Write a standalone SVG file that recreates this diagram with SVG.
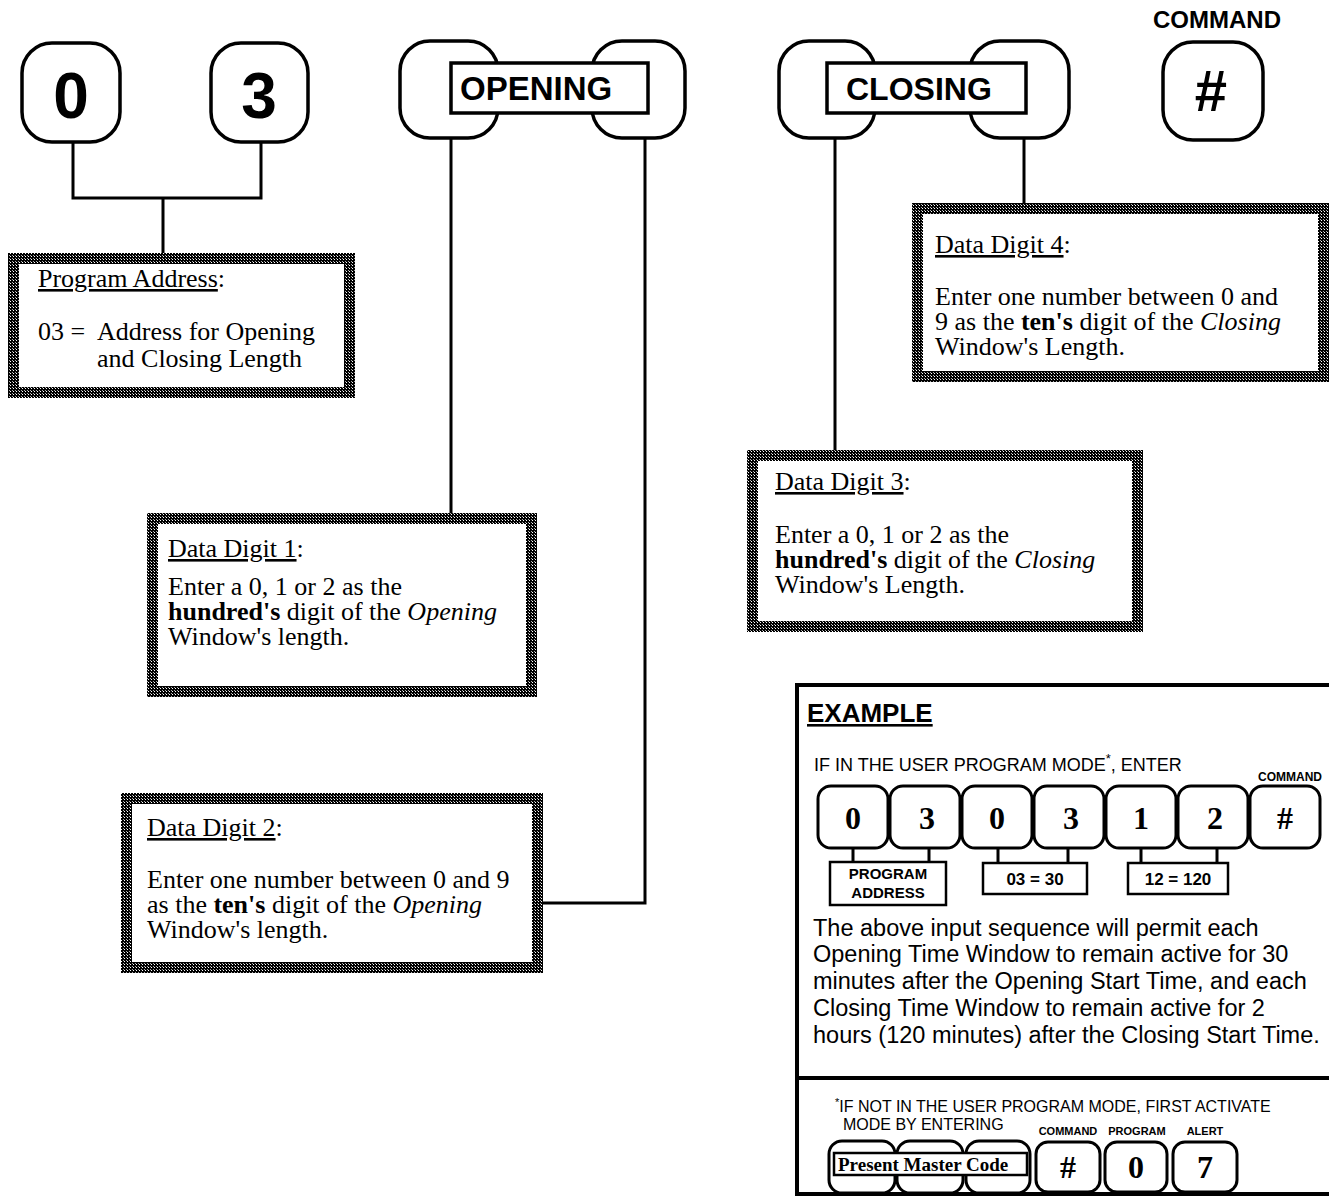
<svg xmlns="http://www.w3.org/2000/svg" width="1329" height="1197" viewBox="0 0 1329 1197">
<defs>
<pattern id="ht" width="3" height="3" patternUnits="userSpaceOnUse"><rect width="3" height="3" fill="#000"/><rect x="1" y="1" width="1" height="1" fill="#fff"/><rect x="0" y="0" width="1" height="1" fill="#aaa"/></pattern>
<style>
.key{fill:#fff;stroke:#000;stroke-width:3.5}
.lbl{fill:#fff;stroke:#000;stroke-width:3.5}
.ln{fill:none;stroke:#000;stroke-width:3}
.box{fill:#fff;stroke:url(#ht);stroke-width:11}
.t{font-family:"Liberation Serif","Times New Roman",serif;font-size:26px;fill:#000}
.s{font-family:"Liberation Sans",Arial,Helvetica,sans-serif;fill:#000}
.b{font-weight:bold}
.i{font-style:italic}
.u{text-decoration:underline}
.ekey{fill:#fff;stroke:#000;stroke-width:3}
.ed{font-family:"Liberation Serif","Times New Roman",serif;font-weight:bold;font-size:32px;text-anchor:middle}
</style>
</defs>
<rect width="1329" height="1197" fill="#fff"/>

<g id="connectors">
<path class="ln" d="M73,142 V198 H261 V141 M163,198 V253"/>
<path class="ln" d="M451,138 V513"/>
<path class="ln" d="M645,138 V903 H543"/>
<path class="ln" d="M835,138 V450"/>
<path class="ln" d="M1024,138 V203"/>
</g>

<g id="key-0"><rect class="key" x="22" y="43" width="98" height="99" rx="30"/><text class="s b" x="71" y="118" font-size="64" text-anchor="middle">0</text></g>
<g id="key-3"><rect class="key" x="211" y="43" width="97" height="99" rx="30"/><text class="s b" x="259" y="118" font-size="64" text-anchor="middle">3</text></g>

<g id="key-opening">
<rect class="key" x="400" y="41" width="98" height="97" rx="30"/>
<rect class="key" x="592" y="41" width="93" height="97" rx="30"/>
<rect class="lbl" x="451" y="63" width="197" height="50"/>
<text class="s b" x="460" y="100" font-size="33">OPENING</text>
</g>

<g id="key-closing">
<rect class="key" x="779" y="41" width="96" height="97" rx="30"/>
<rect class="key" x="970" y="41" width="99" height="97" rx="30"/>
<rect class="lbl" x="827" y="63" width="199" height="50"/>
<text class="s b" x="846" y="100" font-size="32">CLOSING</text>
</g>

<g id="key-command">
<text class="s b" x="1153" y="28" font-size="24">COMMAND</text>
<rect class="key" x="1163" y="42" width="100" height="98" rx="30"/>
<text class="s b" x="1211" y="111" font-size="58" text-anchor="middle">#</text>
</g>

<g id="box-program-address">
<rect class="box" x="13.5" y="258.5" width="336" height="134"/>
<text class="t" x="38" y="287"><tspan class="u">Program Address</tspan>:</text>
<text class="t" x="38" y="340">03 =</text>
<text class="t" x="97" y="340">Address for Opening</text>
<text class="t" x="97" y="367">and Closing Length</text>
</g>

<g id="box-data-digit-1">
<rect class="box" x="152.5" y="518.5" width="379" height="173"/>
<text class="t" x="168" y="557"><tspan class="u">Data Digit 1</tspan>:</text>
<text class="t" x="168" y="595">Enter a 0, 1 or 2 as the</text>
<text class="t" x="168" y="620"><tspan class="b">hundred's</tspan> digit of the <tspan class="i">Opening</tspan></text>
<text class="t" x="168" y="645">Window's length.</text>
</g>

<g id="box-data-digit-2">
<rect class="box" x="126.5" y="798.5" width="411" height="169"/>
<text class="t" x="147" y="836"><tspan class="u">Data Digit 2</tspan>:</text>
<text class="t" x="147" y="888">Enter one number between 0 and 9</text>
<text class="t" x="147" y="913">as the <tspan class="b">ten's</tspan> digit of the <tspan class="i">Opening</tspan></text>
<text class="t" x="147" y="938">Window's length.</text>
</g>

<g id="box-data-digit-3">
<rect class="box" x="752.5" y="455.5" width="385" height="171"/>
<text class="t" x="775" y="490"><tspan class="u">Data Digit 3</tspan>:</text>
<text class="t" x="775" y="543">Enter a 0, 1 or 2 as the</text>
<text class="t" x="775" y="568"><tspan class="b">hundred's</tspan> digit of the <tspan class="i">Closing</tspan></text>
<text class="t" x="775" y="593">Window's Length.</text>
</g>

<g id="box-data-digit-4">
<rect class="box" x="917.5" y="208.5" width="406" height="168"/>
<text class="t" x="935" y="253"><tspan class="u">Data Digit 4</tspan>:</text>
<text class="t" x="935" y="305">Enter one number between 0 and</text>
<text class="t" x="935" y="330">9 as the <tspan class="b">ten's</tspan> digit of the <tspan class="i">Closing</tspan></text>
<text class="t" x="935" y="355">Window's Length.</text>
</g>

<g id="example">
<path d="M1335,685 H797 V1194 H1335" fill="none" stroke="#000" stroke-width="4"/>
<line x1="797" y1="1078" x2="1335" y2="1078" stroke="#000" stroke-width="4"/>
<text class="s b u" x="807" y="722" font-size="26">EXAMPLE</text>
<text class="s" x="814" y="771" font-size="18">IF IN THE USER PROGRAM MODE<tspan font-size="13" dy="-8">*</tspan><tspan dy="8">, ENTER</tspan></text>
<text class="s b" x="1290" y="781" font-size="12" text-anchor="middle">COMMAND</text>
<g id="example-keys">
<rect class="ekey" x="818" y="786" width="70" height="62" rx="13"/>
<rect class="ekey" x="890" y="786" width="70" height="62" rx="13"/>
<rect class="ekey" x="962" y="786" width="70" height="62" rx="13"/>
<rect class="ekey" x="1034" y="786" width="70" height="62" rx="13"/>
<rect class="ekey" x="1106" y="786" width="70" height="62" rx="13"/>
<rect class="ekey" x="1178" y="786" width="70" height="62" rx="13"/>
<rect class="ekey" x="1250" y="786" width="70" height="62" rx="13"/>
<text class="ed" x="853" y="829">0</text>
<text class="ed" x="927" y="829">3</text>
<text class="ed" x="997" y="829">0</text>
<text class="ed" x="1071" y="829">3</text>
<text class="ed" x="1141" y="829">1</text>
<text class="ed" x="1215" y="829">2</text>
<text class="ed" x="1285" y="829">#</text>
</g>
<path class="ln" d="M853,848 V862 M929,848 V862 M998,848 V863 M1068,848 V863 M1141,848 V863 M1217,848 V863" stroke-width="2.5"/>
<rect x="830" y="862" width="116" height="43" fill="#fff" stroke="#000" stroke-width="2.5"/>
<text class="s b" x="888" y="879" font-size="15" text-anchor="middle">PROGRAM</text>
<text class="s b" x="888" y="898" font-size="15" text-anchor="middle">ADDRESS</text>
<rect x="983" y="863" width="104" height="31" fill="#fff" stroke="#000" stroke-width="2.5"/>
<text class="s b" x="1035" y="885" font-size="17" text-anchor="middle">03 = 30</text>
<rect x="1128" y="863" width="100" height="31" fill="#fff" stroke="#000" stroke-width="2.5"/>
<text class="s b" x="1178" y="885" font-size="17" text-anchor="middle">12 = 120</text>
<text class="s" font-size="23.5">
<tspan x="813" y="936">The above input sequence will permit each</tspan>
<tspan x="813" y="962">Opening Time Window to remain active for 30</tspan>
<tspan x="813" y="989">minutes after the Opening Start Time, and each</tspan>
<tspan x="813" y="1016">Closing Time Window to remain active for 2</tspan>
<tspan x="813" y="1043">hours (120 minutes) after the Closing Start Time.</tspan>
</text>
<text class="s" x="835" y="1112" font-size="16"><tspan font-size="11" dy="-6">*</tspan><tspan dy="6">IF NOT IN THE USER PROGRAM MODE, FIRST ACTIVATE</tspan></text>
<text class="s" x="843" y="1130" font-size="16">MODE BY ENTERING</text>
<text class="s b" x="1068" y="1135" font-size="11" text-anchor="middle">COMMAND</text>
<text class="s b" x="1137" y="1135" font-size="11" text-anchor="middle">PROGRAM</text>
<text class="s b" x="1205" y="1135" font-size="11" text-anchor="middle">ALERT</text>
<g id="master-code">
<rect class="ekey" x="829" y="1141" width="66" height="52" rx="13"/>
<rect class="ekey" x="897" y="1141" width="66" height="52" rx="13"/>
<rect class="ekey" x="966" y="1141" width="64" height="52" rx="13"/>
<rect x="834" y="1153" width="193" height="22" fill="#fff" stroke="#000" stroke-width="2.5"/>
<text x="838" y="1171" font-family="'Liberation Serif','Times New Roman',serif" font-weight="bold" font-size="19">Present Master Code</text>
</g>
<rect class="ekey" x="1036" y="1142" width="64" height="50" rx="12"/>
<rect class="ekey" x="1105" y="1142" width="62" height="50" rx="12"/>
<rect class="ekey" x="1173" y="1142" width="64" height="50" rx="12"/>
<text class="ed" x="1068" y="1178">#</text>
<text class="ed" x="1136" y="1178">0</text>
<text class="ed" x="1205" y="1178">7</text>
</g>
</svg>
